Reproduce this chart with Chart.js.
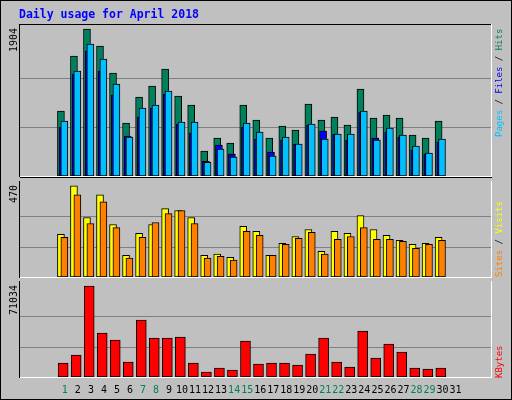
<!DOCTYPE html>
<html><head><meta charset="utf-8">
<script src="https://cdn.jsdelivr.net/npm/chart.js@4/dist/chart.umd.min.js"></script>
<style>
html,body{margin:0;padding:0;background:#fff}
#wrap{position:relative;width:510px;height:398px;background:#C0C0C0;border:1px solid #000}
canvas{position:absolute;left:-1px}
</style></head><body>
<div id="wrap">
<canvas id="c1" style="top:-1px"></canvas>
<canvas id="c2" style="top:177px"></canvas>
<canvas id="c3" style="top:277px"></canvas>
</div>
<script>
const days=[1,2,3,4,5,6,7,8,9,10,11,12,13,14,15,16,17,18,19,20,21,22,23,24,25,26,27,28,29,30,31];
const weekendDays=[1,7,8,14,15,21,22,28,29];
const hits=[842,1554,1904,1684,1334,686,1023,1166,1386,1036,920,324,492,427,920,725,492,648,596,932,725,764,660,1127,751,790,751,531,492,712,null];
const files=[635,1321,1619,1360,1049,518,764,881,1062,673,557,190,401,285,635,479,311,466,414,660,583,544,466,829,492,570,505,337,285,440,null];
const pages=[712,1360,1710,1515,1191,505,881,920,1101,699,699,177,350,246,686,570,259,505,414,673,479,544,544,842,466,622,531,389,298,479,null];
const visits=[220,470,307,424,271,112,225,271,353,342,307,112,118,102,261,235,112,174,209,245,133,235,225,317,245,215,189,169,174,204,null];
const sites=[204,424,276,388,255,97,204,281,327,342,276,97,107,87,235,215,112,169,199,230,118,194,209,255,194,194,184,148,169,189,null];
const kbytes=[10928,17173,71034,34346,28882,11709,44494,30443,30443,31224,10928,3903,7025,5464,28102,10148,10928,10928,9367,17954,30443,11709,7806,35908,14831,25760,19515,7025,6245,7025,null];
const maxLabels={top:'1904',mid:'470',bot:'71034'};

const MONO='"DejaVu Sans Mono", monospace';
function pts(arr,off){return arr.map((v,i)=>({x:i+off,y:v}));}
function ds(label,arr,off,color,order,thick){
  return {label,data:pts(arr,off),backgroundColor:color,borderColor:'#000',borderWidth:1,
    borderSkipped:false,barThickness:thick,grouped:false,order};
}
function frame(ctx,a,opts){
  ctx.save();
  ctx.strokeStyle='#808080';ctx.lineWidth=1;
  opts.grid.forEach(v=>{const y=Math.round(opts.yScale.getPixelForValue(v))+0.5;
    ctx.beginPath();ctx.moveTo(a.left,y);ctx.lineTo(a.right,y);ctx.stroke();});
  ctx.restore();
}
function mkChart(id,h,pad,datasets,ymax,grid,extra){
  const cv=document.getElementById(id);
  return new Chart(cv,{type:'bar',data:{datasets},
    options:{responsive:false,animation:false,devicePixelRatio:1,
      layout:{padding:pad},
      plugins:{legend:{display:false},tooltip:{enabled:false}},
      scales:{x:{type:'linear',display:false,min:-0.86,max:30.14},
              y:{display:false,min:0,max:ymax}}},
    plugins:[{id:'deco',
      beforeDatasetsDraw(ch){frame(ch.ctx,ch.chartArea,{grid,yScale:ch.scales.y});},
      afterDraw(ch){extra(ch.ctx,ch.chartArea,ch);}}]
  });
}
function sizeCanvas(id,h){const c=document.getElementById(id);c.width=512;c.height=h;c.style.width='512px';c.style.height=h+'px';}
sizeCanvas('c1',178);sizeCanvas('c2',100);sizeCanvas('c3',123);

function vtext(ctx,x,y,parts){
  ctx.save();ctx.translate(x,y);ctx.rotate(-Math.PI/2);
  ctx.font='9px '+MONO;ctx.textBaseline='middle';ctx.textAlign='left';
  let cx=0;parts.forEach(([t,c])=>{ctx.fillStyle=c;ctx.fillText(t,cx,0);cx+=ctx.measureText(t).width;});
  ctx.restore();
}
function ylabel(ctx,a,t){
  ctx.save();ctx.translate(14,a.top+3);ctx.rotate(-Math.PI/2);
  ctx.font='10px '+MONO;ctx.fillStyle='#000';ctx.textAlign='right';ctx.textBaseline='middle';
  ctx.fillText(t,0,0);ctx.restore();
}
function borderLines(ctx,a,top,bottom){
  ctx.save();ctx.lineWidth=1;
  if(top){ctx.strokeStyle='#000';ctx.beginPath();ctx.moveTo(a.left,a.top-0.5);ctx.lineTo(a.right+1,a.top-0.5);ctx.stroke();}
  ctx.strokeStyle='#000';ctx.beginPath();ctx.moveTo(a.left-0.5,a.top-1);ctx.lineTo(a.left-0.5,a.bottom+1);ctx.stroke();
  ctx.strokeStyle='#fff';ctx.beginPath();ctx.moveTo(a.right+0.5,a.top-1);ctx.lineTo(a.right+0.5,a.bottom+1);ctx.stroke();
  ctx.beginPath();ctx.moveTo(a.left,a.bottom+0.5);ctx.lineTo(a.right+1,a.bottom+0.5);ctx.stroke();
  if(!bottom){ctx.strokeStyle='#000';ctx.beginPath();ctx.moveTo(a.left,a.bottom+1.5);ctx.lineTo(a.right+1,a.bottom+1.5);ctx.stroke();}
  ctx.restore();
}

mkChart('c1',178,{left:20,top:25,right:21,bottom:2},
  [ds('Pages',pages,-0.04,'#00C0FF',1,7),ds('Files',files,-0.17,'#0000FF',2,7),ds('Hits',hits,-0.3,'#00805C',3,7)],
  1956,[635,1270],
  (ctx,a)=>{
    ctx.save();ctx.font='bold 11.5px '+MONO;ctx.fillStyle='#0000FF';ctx.textBaseline='middle';
    ctx.fillText('Daily usage for April 2018',19,15);ctx.restore();
    ylabel(ctx,a,maxLabels.top);
    vtext(ctx,500,137,[['Pages','#00C0FF'],[' / ','#000'],['Files','#0000FF'],[' / ','#000'],['Hits','#00805C']]);
    borderLines(ctx,a,true,false);
  });
mkChart('c2',100,{left:20,top:4,right:21,bottom:1},
  [ds('Sites',sites,-0.04,'#FF8000',1,7),ds('Visits',visits,-0.3,'#FFFF00',2,7)],
  490,[157,313],
  (ctx,a)=>{
    ylabel(ctx,a,maxLabels.mid);
    vtext(ctx,500,a.bottom,[['Sites','#FF8000'],[' / ','#000'],['Visits','#FFFF00']]);
    borderLines(ctx,a,false,false);
  });
mkChart('c3',123,{left:20,top:4,right:21,bottom:24},
  [ds('KBytes',kbytes,-0.13,'#FF0000',1,10)],
  74156,[23678,47356],
  (ctx,a,ch)=>{
    ylabel(ctx,a,maxLabels.bot);
    vtext(ctx,500,a.bottom+1,[['KBytes','#FF0000']]);
    borderLines(ctx,a,false,true);
    ctx.save();ctx.font='10px '+MONO;ctx.textAlign='center';ctx.textBaseline='middle';
    days.forEach((d,i)=>{ctx.fillStyle=weekendDays.includes(d)?'#00805C':'#000';
      ctx.fillText(String(d),ch.scales.x.getPixelForValue(i),a.bottom+13);});
    ctx.restore();
  });
</script>
</body></html>
